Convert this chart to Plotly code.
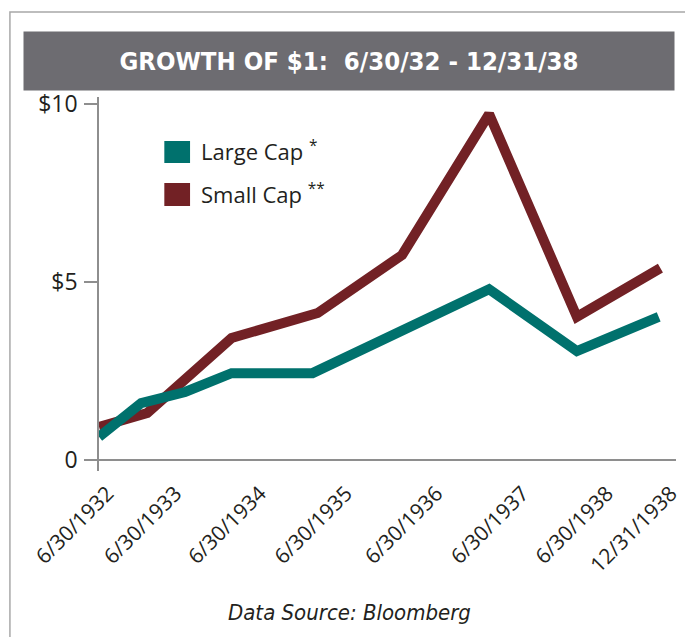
import plotly.graph_objects as go

# ---- data ----
# x positions: years after 6/30/1932 along the drawn time axis
large_x = [0.0, 0.49, 1.0, 1.54, 2.48, 4.53, 5.55, 6.5]
large_y = [0.65, 1.60, 1.91, 2.44, 2.44, 4.80, 3.06, 4.02]
small_x = [0.0, 0.56, 1.54, 2.54, 3.52, 4.53, 5.55, 6.52]
small_y = [0.93, 1.32, 3.43, 4.13, 5.76, 9.72, 4.02, 5.39]

x_tick_pos = [0.10, 0.89, 1.87, 2.87, 3.92, 4.92, 5.90, 6.64]
x_tick_labels = ["6/30/1932", "6/30/1933", "6/30/1934", "6/30/1935",
                 "6/30/1936", "6/30/1937", "6/30/1938", "12/31/1938"]
y_tick_vals = [0, 5, 10]
y_tick_labels = ["0", "$5", "$10"]

TEAL = "#00716d"
RED = "#722125"
GRAY = "#8e8e8e"
TXT = "#231f20"

W, H = 685, 637
ML, MR, MT, MB = 99, 3, 97, 166
PW = W - ML - MR
PH = H - MT - MB


def px(xp):
    return (xp - ML) / PW


def py(yp):
    return (H - MB - yp) / PH


fig = go.Figure()
fig.add_trace(go.Scatter(x=small_x, y=small_y, mode="lines", name="Small Cap",
                         line=dict(color=RED, width=10), showlegend=False))
fig.add_trace(go.Scatter(x=large_x, y=large_y, mode="lines", name="Large Cap",
                         line=dict(color=TEAL, width=10), showlegend=False))

shapes = [
    # outer frame
    dict(type="rect", xref="paper", yref="paper", x0=px(9), x1=px(720), y0=py(700), y1=py(12),
         line=dict(color="#a8a8a8", width=1.5), fillcolor="rgba(0,0,0,0)", layer="below"),
    # legend swatches
    dict(type="rect", xref="paper", yref="paper", x0=px(165), x1=px(191), y0=py(163), y1=py(141),
         line=dict(width=0), fillcolor=TEAL),
    dict(type="rect", xref="paper", yref="paper", x0=px(165), x1=px(191), y0=py(206), y1=py(183),
         line=dict(width=0), fillcolor=RED),
]

annotations = [
    dict(text="<b>GROWTH OF $1:  6/30/32 - 12/31/38</b>", xref="paper", yref="paper",
         x=px(352), y=py(61), xanchor="center", yanchor="middle", showarrow=False,
         width=648, height=56, bgcolor="#6d6c71",
         font=dict(family="DejaVu Sans Condensed, DejaVu Sans", size=25.5, color="white")),
    dict(text="Large Cap <sup>*</sup>", xref="paper", yref="paper", x=px(200), y=py(150),
         xanchor="left", yanchor="middle", showarrow=False,
         font=dict(family="Open Sans", size=22, color=TXT)),
    dict(text="Small Cap <sup>**</sup>", xref="paper", yref="paper", x=px(200), y=py(193),
         xanchor="left", yanchor="middle", showarrow=False,
         font=dict(family="Open Sans", size=22, color=TXT)),
    dict(text="<i>Data Source: Bloomberg</i>", xref="paper", yref="paper", x=px(352), y=py(612),
         xanchor="center", yanchor="middle", showarrow=False,
         font=dict(family="DejaVu Sans Condensed, DejaVu Sans", size=22, color=TXT)),
]

fig.update_layout(
    width=W, height=H,
    margin=dict(l=ML, r=MR, t=MT, b=MB, pad=0),
    paper_bgcolor="white", plot_bgcolor="white",
    shapes=shapes, annotations=annotations,
    showlegend=False,
    xaxis=dict(range=[0, 6.701], showgrid=False, zeroline=False, showline=False,
               ticks="", tickmode="array", tickvals=x_tick_pos, ticktext=x_tick_labels,
               tickangle=-45, ticklabeloverflow="allow", ticklabelstandoff=5,
               tickfont=dict(family="Open Sans", size=21, color=TXT)),
    yaxis=dict(range=[-0.31, 10.2], showgrid=False, zeroline=True, zerolinecolor=GRAY,
               zerolinewidth=1.5, showline=True, linecolor=GRAY, linewidth=1.5,
               ticks="outside", ticklen=13, tickcolor=GRAY, tickwidth=1.5,
               tickmode="array", tickvals=y_tick_vals, ticktext=y_tick_labels,
               ticklabelstandoff=2,
               tickfont=dict(family="Open Sans", size=23, color=TXT)),
)

fig.write_html("out.html", config={"displayModeBar": False},
               post_script="document.body.style.margin='0';document.body.style.overflow='hidden';")
